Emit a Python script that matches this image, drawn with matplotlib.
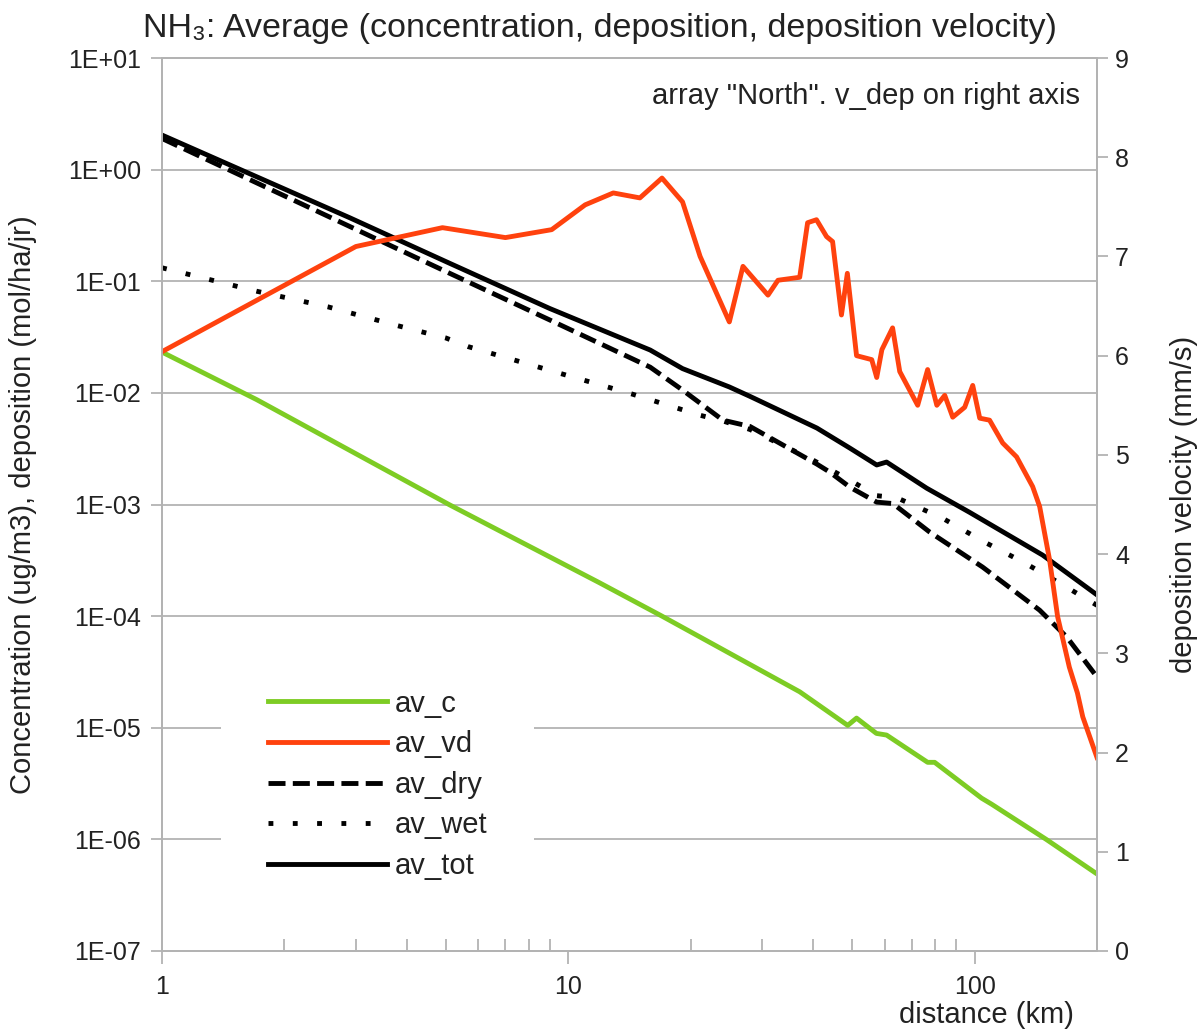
import matplotlib
matplotlib.use("Agg")
import matplotlib.pyplot as plt
import numpy as np
from matplotlib.ticker import FixedLocator, FuncFormatter, LogLocator, NullFormatter

plt.rcParams['font.family'] = ['Liberation Sans', 'DejaVu Sans']

# values (distance in km)
c_dist = [1, 1.71, 5.11, 11.9, 17, 37.1, 48.7, 51.2, 57.3, 60.7, 76.6, 79.7, 104, 110, 150, 200]
av_c = [0.0232, 0.0087, 9.9e-4, 2.0e-4, 1.0e-4, 2.1e-5, 1.05e-5, 1.22e-5, 8.9e-6, 8.6e-6,
        4.9e-6, 4.9e-6, 2.34e-6, 2.07e-6, 1.0e-6, 4.9e-7]

vd_dist = [1, 3.0, 4.9, 7.0, 9.1, 11, 12.9, 15, 17, 19.1, 21.1, 24.9, 26.9, 31, 32.8, 37.1,
           38.8, 40.8, 43.2, 44.7, 47, 48.6, 51.2, 55.8, 57.4, 59.1, 62.8, 65.4, 72.4, 76.6,
           80.7, 84.4, 88.3, 94.5, 98.9, 102.9, 108.8, 117.2, 126.8, 138.9, 144.5, 152.9,
           160, 171, 179, 184.5, 200]
av_vd = [6.04, 7.1, 7.29, 7.19, 7.27, 7.52, 7.64, 7.59, 7.79, 7.55, 7.0, 6.34, 6.9, 6.61,
         6.76, 6.79, 7.34, 7.37, 7.2, 7.15, 6.41, 6.83, 6.0, 5.96, 5.78, 6.06, 6.28, 5.84,
         5.5, 5.86, 5.5, 5.6, 5.38, 5.48, 5.7, 5.37, 5.35, 5.12, 4.98, 4.68, 4.48, 3.94,
         3.37, 2.86, 2.6, 2.36, 1.95]

dry_dist = [1, 5.1, 9.0, 15.9, 19.1, 24.0, 28, 40.9, 44, 49.3, 57.4, 62.9, 77.5, 104.6,
            144.5, 168.5, 200]
av_dry = [1.9, 0.118, 0.045, 0.017, 0.0106, 0.0057, 0.0050, 0.0023, 0.00195, 0.00143,
          0.00105, 0.00102, 0.000566, 0.000275, 0.000113, 6.5e-5, 2.85e-5]

wet_dist = [1, 1.72, 2.56, 3.8, 5.0, 5.66, 9.64, 14.3, 21.1, 24, 28, 40, 49.3, 57.4, 64.3,
            83, 105.8, 132.7, 166.5, 200]
av_wet = [0.132, 0.081, 0.059, 0.040, 0.031, 0.026, 0.0148, 0.0098, 0.0063, 0.0056, 0.0047,
          0.0025, 0.00165, 0.0012, 0.00115, 0.00076, 0.00046, 0.0003, 0.000186, 0.000125]

tot_dist = [1, 2.9, 5.1, 9.0, 15.9, 19.1, 24.9, 28, 40.9, 49.3, 57.4, 60.7, 76.2, 97.2, 147, 200]
av_tot = [2.04, 0.37, 0.145, 0.057, 0.0242, 0.0165, 0.0113, 0.0093, 0.00484, 0.0032,
          0.00226, 0.0024, 0.0014, 0.00085, 0.000352, 0.000155]

green = '#7dcc24'
red = '#ff420e'
grey = '#b3b3b3'
txt = '#222222'
lw = 3.5

fig = plt.figure(figsize=(12, 10.35), dpi=100)
ax = fig.add_axes([162/1200, 1 - 951/1035, 935/1200, 893/1035])
ax.set_xscale('log')
ax.set_yscale('log')

l_c, = ax.plot(c_dist, av_c, color=green, lw=lw, label='av_c')
l_dry, = ax.plot(dry_dist, av_dry, color='black', lw=lw, ls=(0, (3.5, 1.5)), label='av_dry')
l_wet, = ax.plot(wet_dist, av_wet, color='black', lw=lw, ls=(0, (1, 4)), label='av_wet')
l_tot, = ax.plot(tot_dist, av_tot, color='black', lw=lw, label='av_tot')

ax.set_xlim(1, 200)
ax.set_ylim(1e-7, 10)
ax.set_axisbelow(True)
ax.grid(True, which='major', axis='y', color=grey, lw=1.3)

ax.yaxis.set_major_locator(FixedLocator([10.0**e for e in range(-7, 2)]))
ax.yaxis.set_major_formatter(FuncFormatter(lambda v, p: "1E%+03d" % int(round(np.log10(v)))))
ax.yaxis.set_minor_locator(FixedLocator([]))
ax.xaxis.set_major_locator(FixedLocator([1, 10, 100]))
ax.xaxis.set_major_formatter(FuncFormatter(lambda v, p: "%g" % v))
ax.xaxis.set_minor_locator(LogLocator(base=10, subs=range(2, 10)))
ax.xaxis.set_minor_formatter(NullFormatter())

ax.tick_params(axis='y', which='major', direction='out', length=8, width=1.3, color=grey,
               labelsize=18, labelcolor=txt, pad=7)
ax.tick_params(axis='x', which='major', direction='out', length=9, width=1.3, color=grey,
               labelsize=18, labelcolor=txt, pad=8)
ax.tick_params(axis='x', which='minor', direction='in', length=9, width=1.3, color=grey)
for s in ax.spines.values():
    s.set_color(grey)
    s.set_linewidth(1.3)

ax.set_ylabel("Concentration (ug/m3), deposition (mol/ha/jr)", fontsize=21, color=txt)
ax.yaxis.set_label_coords(-0.134, 0.5)
ax.set_xlabel("distance (km)", fontsize=21, color=txt)
ax.xaxis.set_label_coords(0.882, -0.056)

ax2 = ax.twinx()
l_vd, = ax2.plot(vd_dist, av_vd, color=red, lw=lw, label='av_vd')
ax2.set_ylim(0, 9)
ax2.set_yticks(range(10))
ax2.tick_params(axis='y', direction='out', length=8, width=1.3, color=grey,
                labelsize=18, labelcolor=txt, pad=5)
for s in ax2.spines.values():
    s.set_color(grey)
    s.set_linewidth(1.3)
ax2.set_ylabel("deposition velocity (mm/s)", fontsize=21, color=txt)
ax2.yaxis.set_label_coords(1.078, 0.5)

ax2.text(0.982, 0.958, 'array "North". v_dep on right axis', transform=ax2.transAxes,
         ha='right', va='center', fontsize=21, color=txt)

leg = ax2.legend(handles=[l_c, l_vd, l_dry, l_wet, l_tot], loc='upper left',
                 bbox_to_anchor=(221/1200, 1 - 643/1035), bbox_transform=fig.transFigure,
                 fontsize=21, frameon=True, facecolor='white', edgecolor='none', framealpha=1,
                 fancybox=False, borderpad=1.6, handlelength=4.1, handletextpad=0.24,
                 labelspacing=0.43, borderaxespad=0)
for t in leg.get_texts():
    t.set_color(txt)

fig.text(0.5, 1 - 28/1035, "NH\u2083: Average (concentration, deposition, deposition velocity)",
         ha='center', va='center', fontsize=24.5, color=txt)

fig.savefig("out.png", dpi=100, facecolor='white')
